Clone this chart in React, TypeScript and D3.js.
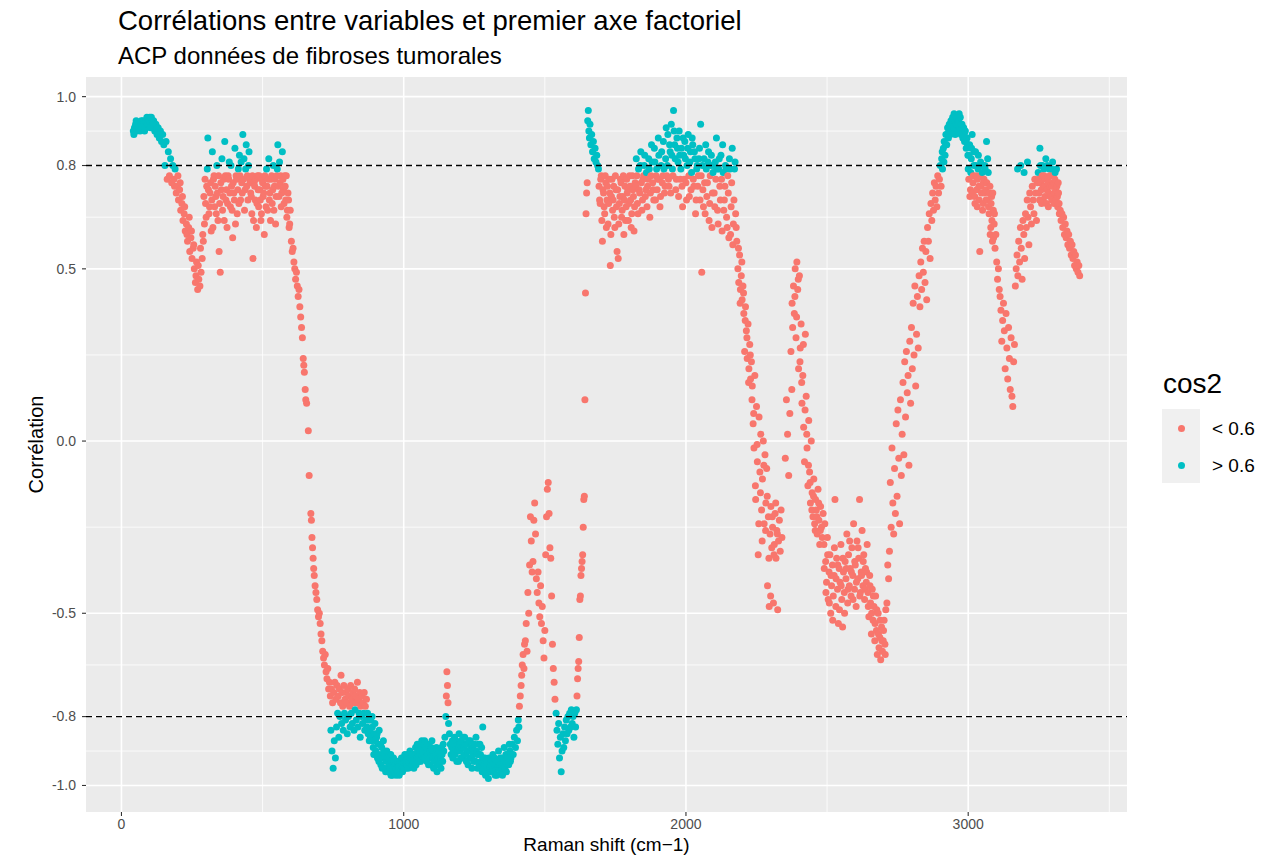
import React from 'react';
import * as d3 from 'd3';

const WIDTH = 1281;
const HEIGHT = 855;

// Correlation of each Raman channel (shift in cm-1) with the first principal axis.
// Pairs are [Raman shift, correlation], grouped by spectral region.
const lowShiftPoints: [number, number][] = [
  [42,.90],[46,.91],[50,.92],[54,.90],[58,.91],[62,.92],[66,.90],[70,.93],[74,.91],[78,.92],[82,.90],[86,.93],[90,.94],[94,.92],[98,.93],[102,.91],[106,.94],[110,.92],[114,.93],[118,.90],[122,.92],[126,.89],[130,.91],[134,.88],[138,.90],[142,.87],[146,.89],[150,.86],[154,.80],[158,.87],[162,.76],[166,.84],[170,.77],[174,.82],[178,.75],[182,.80],[186,.76],
  [44,.89],[52,.93],[60,.91],[68,.92],[76,.93],[84,.91],[92,.92],[100,.94],[108,.91],[116,.92],[124,.90],[132,.89],
  [190,.79],[194,.72],[198,.74],[202,.70],[206,.73],[210,.67],[214,.69],[218,.64],[222,.66],[226,.61],[230,.63],[234,.58],[238,.62],[242,.55],[246,.59],[250,.53],[254,.56],[258,.50],[262,.46],[266,.52],[270,.44],[274,.47],[278,.45],[282,.49],[286,.53],
  [188,.74],[200,.77],[208,.75],[216,.71],[224,.68],[232,.60],[240,.65],[248,.61],[256,.57],[264,.48],[272,.51],[280,.56],[288,.60],
  [290,.58],[294,.63],[298,.69],[302,.74],[306,.88],[310,.66],[314,.72],[318,.61],[322,.84],[326,.76],[330,.68],[334,.71],[338,.80],[342,.64],[346,.55],[350,.49],[354,.73],[358,.67],[362,.76],[366,.87],[370,.70],[374,.62],[378,.77],[382,.81],[386,.68],[390,.74],[394,.59],[398,.72],[402,.85],[406,.77],[410,.66],[414,.79],[418,.83],[422,.70],[426,.75],[430,.89],[434,.82],[438,.73],[442,.86],[446,.77],[450,.80],[454,.76],
  [458,.72],[462,.66],[466,.53],[470,.75],[474,.70],[478,.62],[482,.77],[486,.68],[490,.73],[494,.64],[498,.76],[502,.71],[506,.60],[510,.74],[514,.79],[518,.67],[522,.82],[526,.72],[530,.76],[534,.69],[538,.80],[542,.74],[546,.63],[550,.77],[554,.86],[558,.71],[562,.75],[566,.68],[570,.84],[574,.73],[578,.77],[582,.70],[586,.65],[590,.72],[594,.62],[598,.67],
  [292,.71],[296,.76],[300,.65],[304,.79],[308,.73],[312,.68],[316,.75],[320,.70],[324,.62],[328,.77],[332,.74],[336,.66],[340,.72],[344,.77],[348,.69],[352,.75],[356,.82],[360,.71],[364,.64],[368,.77],[372,.73],[376,.69],[380,.76],[384,.72],[388,.80],[392,.67],[396,.75],[400,.70],[404,.63],[408,.76],[412,.73],[416,.69],[420,.77],[424,.81],[428,.72],[432,.76],[436,.67],[440,.79],[444,.74],[448,.70],[452,.84],[456,.75],[460,.71],[464,.77],[468,.64],[472,.74],[476,.76],[480,.69],[484,.73],[488,.77],[492,.70],[496,.66],[500,.75],[504,.72],[508,.77],[512,.68],[516,.74],[520,.76],[524,.70],[528,.64],[532,.77],[536,.73],[540,.67],[544,.76],[548,.71],[552,.79],[556,.74],[560,.81],[564,.77],[568,.72],[572,.76],[576,.69],[580,.74],[584,.77],[588,.67],[592,.70],[596,.63],
];

const descentPoints: [number, number][] = [
  [602,.58],[605,.55],[608,.56],[611,.52],[614,.50],[617,.47],[620,.49],[623,.45],[626,.42],[629,.44],[632,.39],[635,.36],[638,.33],[641,.30],[644,.24],[646,.22],[648,.20],[651,.15],[653,.12],[656,.11],[662,.03],[665,-.10],[671,-.21],[673,-.23],[675,-.28],[677,-.31],[679,-.34],[681,-.37],[683,-.39],[686,-.42],[689,-.44],[692,-.46],[695,-.49],[698,-.51],[701,-.50],[704,-.53],[707,-.56],[710,-.58],[713,-.61],[716,-.63],[719,-.65],[722,-.62],[725,-.67],[728,-.69],[731,-.66],[734,-.72],[737,-.70],
];

const floorPoints: [number, number][] = [
  [740,-.74],[742,-.84],[744,-.72],[746,-.90],[748,-.76],[750,-.95],[752,-.73],[754,-.87],[756,-.70],[758,-.92],[760,-.75],[762,-.83],[764,-.71],[766,-.79],[768,-.74],[770,-.86],[772,-.72],[774,-.80],[776,-.76],[778,-.68],[780,-.82],[782,-.73],[784,-.77],[786,-.84],[788,-.71],[790,-.79],[792,-.75],[794,-.81],[796,-.73],[798,-.76],[800,-.85],[802,-.72],[804,-.80],[806,-.74],[808,-.77],[810,-.83],[812,-.71],[814,-.79],[816,-.75],[818,-.82],[820,-.73],[822,-.76],[824,-.84],[826,-.72],[828,-.78],[830,-.74],[832,-.81],[834,-.76],[836,-.70],[838,-.83],[840,-.75],[842,-.79],[844,-.73],[846,-.86],[848,-.77],[850,-.80],[852,-.74],[854,-.82],[856,-.76],[858,-.79],[860,-.73],[862,-.84],[864,-.77],[866,-.81],[868,-.75],[870,-.83],[872,-.79],[874,-.85],[876,-.81],[878,-.87],
  [880,-.84],[883,-.81],[886,-.87],[889,-.83],[892,-.89],[895,-.85],[898,-.82],[901,-.90],[904,-.86],[907,-.92],[910,-.88],[913,-.84],[916,-.91],[919,-.94],[922,-.89],[925,-.92],[928,-.87],[931,-.95],[934,-.91],[937,-.93],[940,-.90],[943,-.96],[946,-.93],[949,-.91],[952,-.95],[955,-.97],[958,-.93],[961,-.95],[964,-.92],[967,-.96],[970,-.94],[973,-.97],[976,-.95],[979,-.93],
  [882,-.86],[888,-.80],[894,-.91],[900,-.87],[906,-.85],[912,-.93],[918,-.88],[924,-.95],[930,-.90],[936,-.96],[942,-.92],[948,-.94],[954,-.91],[960,-.97],[966,-.93],[972,-.95],[978,-.96],
  [982,-.95],[986,-.93],[990,-.96],[994,-.94],[998,-.92],[1002,-.95],[1006,-.93],[1010,-.94],[1014,-.91],[1018,-.93],[1022,-.90],[1026,-.92],[1030,-.94],[1034,-.91],[1038,-.93],[1042,-.89],[1046,-.92],[1050,-.90],[1054,-.93],[1058,-.88],[1062,-.91],[1066,-.89],[1070,-.92],[1074,-.87],[1078,-.90],[1082,-.93],[1086,-.88],[1090,-.91],[1094,-.94],[1098,-.89],[1102,-.92],[1106,-.95],[1110,-.90],[1114,-.93],[1118,-.96],[1122,-.91],[1126,-.94],[1130,-.92],[1134,-.89],[1138,-.93],[1142,-.90],
  [984,-.97],[988,-.94],[992,-.92],[996,-.96],[1000,-.94],[1004,-.91],[1008,-.95],[1012,-.92],[1016,-.95],[1020,-.92],[1024,-.94],[1028,-.91],[1032,-.93],[1036,-.95],[1040,-.91],[1044,-.94],[1048,-.88],[1052,-.92],[1056,-.90],[1060,-.93],[1064,-.87],[1068,-.90],[1072,-.88],[1076,-.92],[1080,-.89],[1084,-.91],[1088,-.94],[1092,-.90],[1096,-.92],[1100,-.87],[1104,-.90],[1108,-.93],[1112,-.91],[1116,-.89],[1120,-.94],[1124,-.92],[1128,-.90],[1132,-.95],[1136,-.91],[1140,-.88],
  [1146,-.86],[1149,-.80],[1151,-.74],[1153,-.67],[1155,-.71],[1157,-.76],[1159,-.82],[1162,-.85],[1165,-.88],
  [1168,-.91],[1172,-.87],[1176,-.90],[1180,-.86],[1184,-.89],[1188,-.93],[1192,-.88],[1196,-.85],[1200,-.90],[1204,-.87],[1208,-.92],[1212,-.89],[1216,-.86],[1220,-.91],[1224,-.88],[1228,-.94],[1232,-.90],[1236,-.87],[1240,-.92],[1244,-.89],[1248,-.93],[1252,-.90],[1256,-.86],[1260,-.91],[1264,-.88],[1268,-.94],[1272,-.91],[1276,-.89],[1280,-.83],
  [1170,-.89],[1174,-.92],[1178,-.88],[1182,-.91],[1186,-.87],[1190,-.90],[1194,-.93],[1198,-.88],[1202,-.92],[1206,-.89],[1210,-.86],[1214,-.91],[1218,-.88],[1222,-.93],[1226,-.90],[1230,-.87],[1234,-.92],[1238,-.89],[1242,-.95],[1246,-.91],[1250,-.88],[1254,-.93],[1258,-.90],[1262,-.95],[1266,-.91],[1270,-.88],[1274,-.93],[1278,-.96],
  [1284,-.95],[1288,-.92],[1292,-.96],[1296,-.94],[1300,-.98],[1304,-.95],[1308,-.93],[1312,-.96],[1316,-.91],[1320,-.94],[1324,-.97],[1328,-.93],[1332,-.95],[1336,-.90],[1340,-.94],[1344,-.96],[1348,-.92],[1352,-.95],[1356,-.89],[1360,-.93],[1364,-.96],[1368,-.91],[1372,-.94],[1376,-.90],
  [1282,-.92],[1286,-.94],[1290,-.97],[1294,-.93],[1298,-.95],[1302,-.92],[1306,-.96],[1310,-.94],[1314,-.93],[1318,-.96],[1322,-.92],[1326,-.95],[1330,-.97],[1334,-.93],[1338,-.95],[1342,-.92],[1346,-.94],[1350,-.97],[1354,-.93],[1358,-.95],[1362,-.91],[1366,-.94],[1370,-.92],[1374,-.88],[1378,-.93],
  [1380,-.92],[1384,-.88],[1388,-.91],[1392,-.86],[1396,-.89],[1400,-.84],[1403,-.87],[1406,-.81],[1408,-.83],
];

const amideRisePoints: [number, number][] = [
  [1410,-.77],[1413,-.74],[1416,-.71],[1418,-.68],[1420,-.65],[1423,-.62],[1426,-.66],[1428,-.59],[1431,-.58],[1434,-.53],[1437,-.61],[1440,-.44],[1443,-.50],[1446,-.36],[1449,-.22],[1452,-.29],[1455,-.38],[1458,-.35],[1461,-.23],[1464,-.18],[1467,-.27],[1470,-.40],[1473,-.44],[1476,-.38],[1479,-.47],[1482,-.51],[1485,-.42],[1488,-.53],[1491,-.48],[1494,-.58],[1497,-.63],[1500,-.55],[1503,-.33],[1506,-.22],[1509,-.14],[1512,-.12],[1515,-.21],[1518,-.31],[1521,-.34],[1524,-.45],[1527,-.59],[1530,-.66],[1533,-.70],[1536,-.75],
  [1540,-.79],[1543,-.84],[1546,-.88],[1549,-.82],[1552,-.92],[1555,-.86],[1558,-.96],[1561,-.90],[1564,-.85],[1567,-.89],[1570,-.83],[1573,-.87],[1576,-.81],[1579,-.85],[1582,-.80],[1585,-.84],[1588,-.79],[1591,-.83],[1594,-.78],[1597,-.82],[1600,-.80],[1603,-.86],[1606,-.79],[1609,-.83],[1612,-.78],
  [1614,-.74],[1616,-.69],[1618,-.66],[1620,-.64],[1622,-.57],[1624,-.46],[1626,-.45],[1628,-.39],[1630,-.37],[1632,-.35],[1634,-.33],[1636,-.25],[1638,-.17],[1640,-.16],[1642,.12],[1644,.43],[1646,.66],[1648,.72],[1650,.75],[1652,.93],[1654,.96],[1656,.90],[1658,.88],[1660,.92],[1663,.86],[1666,.89],[1669,.84],[1672,.87],[1675,.82],[1678,.85],[1681,.81],[1684,.83],[1687,.80],[1690,.79],
];

const amidePlateauPoints: [number, number][] = [
  [1692,.74],[1696,.69],[1700,.77],[1704,.58],[1708,.72],[1712,.66],[1716,.75],[1720,.70],[1724,.63],[1728,.76],[1732,.51],[1736,.71],[1740,.67],[1744,.74],[1748,.62],[1752,.73],[1756,.55],[1760,.53],[1764,.69],[1768,.76],[1772,.65],[1776,.71],[1780,.60],[1784,.74],[1788,.68],[1792,.72],[1796,.64],[1800,.77],[1804,.70],[1808,.66],[1812,.73],[1816,.61],[1820,.75],[1824,.82],[1828,.69],[1832,.79],[1836,.72],[1840,.84],[1844,.67],[1848,.76],[1852,.80],[1856,.71],[1860,.78],[1864,.74],[1868,.82],[1872,.65],[1876,.77],[1880,.81],[1884,.73],[1888,.85],[1892,.70],[1896,.79],[1900,.76],[1904,.83],[1908,.68],[1912,.80],[1916,.75],[1920,.87],[1924,.72],[1928,.82],[1932,.77],[1936,.89],[1940,.74],[1944,.84],[1948,.92],[1952,.79],[1956,.96],[1960,.86],[1964,.73],[1968,.88],[1972,.81],[1976,.90],[1980,.76],[1984,.85],[1988,.68],[1992,.83],[1996,.87],[2000,.75],[2004,.80],[2008,.89],[2012,.71],[2016,.84],[2020,.78],[2024,.86],[2028,.74],[2032,.82],[2036,.70],[2040,.80],[2044,.77],[2048,.85],[2052,.92],[2056,.49],[2060,.73],[2064,.82],[2068,.66],[2072,.79],[2076,.75],[2080,.84],[2084,.69],[2088,.80],[2092,.62],[2096,.78],[2100,.72],[2104,.81],[2108,.88],[2112,.67],[2116,.79],[2120,.74],[2124,.83],[2128,.61],[2132,.78],[2136,.70],[2140,.80],[2144,.65],[2148,.77],[2152,.59],[2156,.79],[2160,.68],[2164,.85],[2168,.63],[2172,.79],[2176,.66],[2180,.58],
  [1694,.70],[1698,.76],[1702,.64],[1706,.73],[1710,.68],[1714,.77],[1718,.62],[1722,.74],[1726,.69],[1730,.72],[1734,.60],[1738,.76],[1742,.70],[1746,.65],[1750,.77],[1754,.68],[1758,.73],[1762,.63],[1766,.71],[1770,.75],[1774,.67],[1778,.77],[1782,.70],[1786,.64],[1790,.76],[1794,.73],[1798,.69],[1802,.74],[1806,.62],[1810,.77],[1814,.71],[1818,.68],[1822,.74],[1826,.77],[1830,.66],[1834,.73],[1838,.80],[1842,.75],[1846,.70],[1850,.77],[1854,.83],[1858,.73],[1862,.68],[1866,.76],[1870,.79],[1874,.72],[1878,.86],[1882,.75],[1886,.70],[1890,.81],[1894,.77],[1898,.73],[1902,.88],[1906,.76],[1910,.71],[1914,.84],[1918,.77],[1922,.79],[1926,.74],[1930,.91],[1934,.80],[1938,.76],[1942,.86],[1946,.72],[1950,.83],[1954,.77],[1958,.90],[1962,.82],[1966,.76],[1970,.85],[1974,.71],[1978,.83],[1982,.79],[1986,.74],[1990,.88],[1994,.76],[1998,.82],[2002,.70],[2006,.85],[2010,.77],[2014,.81],[2018,.73],[2022,.88],[2026,.76],[2030,.84],[2034,.66],[2038,.79],[2042,.74],[2046,.82],[2050,.70],[2054,.77],[2058,.80],[2062,.68],[2066,.75],[2070,.86],[2074,.71],[2078,.81],[2082,.64],[2086,.77],[2090,.83],[2094,.72],[2098,.80],[2102,.68],[2106,.76],[2110,.79],[2114,.63],[2118,.82],[2122,.70],[2126,.76],[2130,.86],[2134,.67],[2138,.74],[2142,.79],[2146,.62],[2150,.72],[2154,.82],[2158,.60],[2162,.75],[2166,.57],[2170,.70],[2174,.81],[2178,.62],
];

const fallPoints: [number, number][] = [
  [2184,.50],[2187,.46],[2190,.54],[2193,.44],[2196,.48],[2199,.41],[2202,.45],[2205,.37],[2208,.26],[2211,.39],[2214,.32],[2217,.24],[2220,.34],[2223,.21],[2226,.28],[2229,.18],[2232,.23],[2235,.16],[2238,.05],[2241,-.02],[2244,.19],[2247,-.17],[2250,.10],[2253,-.06],[2256,-.33],[2259,.07],[2262,-.09],[2265,.02],[2268,-.20],[2271,-.11],[2274,.00],[2277,-.24],[2280,-.04],[2283,-.18],[2286,-.08],[2289,-.42],[2292,-.22],[2295,-.48],[2298,-.27],[2301,-.19],[2304,-.31],[2307,-.25],[2310,-.47],[2313,-.30],[2316,-.21],[2319,-.34],[2322,-.26],[2325,-.49],[2328,-.29],[2331,-.23],[2334,-.32],[2337,-.20],[2340,-.28],
  [2186,.56],[2192,.40],[2198,.52],[2204,.43],[2210,.35],[2216,.30],[2222,.17],[2228,.25],[2234,.12],[2240,.08],[2246,-.13],[2252,-.01],[2258,-.24],[2264,-.15],[2270,-.29],[2276,-.07],[2282,-.26],[2288,-.16],[2294,-.34],[2300,-.45],[2306,-.22],[2312,-.33],[2318,-.18],[2324,-.27],
  [2352,-.05],[2356,.12],[2360,.02],[2364,-.10],[2368,.08],[2372,.26],[2375,.15],[2378,.33],[2381,.45],[2384,.37],[2387,.50],[2390,.30],[2393,.52],[2396,.44],[2399,.21],[2402,.48],[2405,.27],[2408,.34],[2411,.11],[2414,.19],[2417,.04],[2420,-.06],[2423,.31],[2426,.13],[2429,-.02],[2432,-.13],[2435,.06],[2438,-.09],[2441,-.18],[2444,.00],[2447,-.15],[2450,-.22],[2453,-.11],[2456,-.24],[2459,-.17],[2462,-.20],[2465,-.27],[2468,-.14],[2471,-.23],[2474,-.30],[2477,-.19],[2480,-.25],[2483,-.28],[2486,-.21],
  [2376,.40],[2386,.42],[2392,.36],[2398,.47],[2404,.23],[2410,.17],[2416,.28],[2422,.09],[2428,.02],[2434,-.07],[2440,-.12],[2446,-.20],[2452,-.16],[2458,-.26],[2464,-.22],[2470,-.18],[2476,-.26],
];

const valleyPoints: [number, number][] = [
  [2489,-.30],[2492,-.24],[2495,-.35],[2498,-.41],[2501,-.28],[2504,-.46],[2507,-.38],[2510,-.33],[2513,-.50],[2516,-.42],[2519,-.36],[2522,-.45],[2525,-.39],[2528,-.17],[2531,-.48],[2534,-.34],[2537,-.43],[2540,-.53],[2543,-.37],[2546,-.41],[2549,-.30],[2552,-.46],[2555,-.54],[2558,-.38],[2561,-.44],[2564,-.35],[2567,-.40],[2570,-.27],[2573,-.47],[2576,-.33],[2579,-.42],[2582,-.37],[2585,-.45],[2588,-.31],[2591,-.39],[2594,-.24],[2597,-.43],[2600,-.36],[2603,-.48],[2606,-.29],[2609,-.40],[2612,-.34],[2615,-.17],[2618,-.44],[2621,-.38],[2624,-.26],[2627,-.42],[2630,-.33],[2633,-.46],[2636,-.37],[2639,-.41],[2642,-.30],[2645,-.44],[2648,-.51],[2651,-.39],[2654,-.47],[2657,-.56],[2660,-.43],[2663,-.52],[2666,-.48],[2669,-.58],[2672,-.45],[2675,-.55],[2678,-.62],[2681,-.50],[2684,-.60],[2687,-.57],[2690,-.635],[2693,-.54],[2696,-.61],[2699,-.58],[2702,-.52],[2705,-.59],[2708,-.49],
  [2490,-.37],[2496,-.44],[2502,-.33],[2508,-.47],[2514,-.39],[2520,-.52],[2526,-.31],[2532,-.40],[2538,-.36],[2544,-.49],[2550,-.42],[2556,-.34],[2562,-.50],[2568,-.37],[2574,-.43],[2580,-.29],[2586,-.38],[2592,-.46],[2598,-.35],[2604,-.41],[2610,-.31],[2616,-.45],[2622,-.39],[2628,-.35],[2634,-.43],[2640,-.38],[2646,-.48],[2652,-.42],[2658,-.50],[2664,-.45],[2670,-.53],[2676,-.49],[2682,-.56],[2688,-.52],[2694,-.58],[2700,-.55],[2706,-.62],
];

const chStretchPoints: [number, number][] = [
  [2712,-.47],[2715,-.36],[2718,-.40],[2721,-.32],[2724,-.12],[2727,-.25],[2730,-.02],[2733,-.18],[2736,-.27],[2739,-.08],[2742,-.21],[2745,.05],[2748,-.16],[2751,.09],[2754,-.05],[2757,-.24],[2760,.12],[2763,-.10],[2766,.02],[2769,.17],[2772,-.04],[2775,.23],[2778,.07],[2781,.26],[2784,.14],[2787,.19],[2790,-.07],[2793,.29],[2796,.11],[2799,.33],[2802,.21],[2805,.40],[2808,.25],[2811,.45],[2814,.16],[2817,.31],[2820,.42],[2823,.27],[2826,.48],[2829,.39],[2832,.52],[2835,.44],[2838,.56],[2841,.49],[2844,.58],[2847,.46],[2850,.55],[2853,.41],[2856,.62],[2859,.58],[2862,.66],[2865,.53],[2868,.69],[2871,.64],[2874,.72],[2877,.67],[2880,.75],[2883,.70],[2886,.74],[2889,.68],[2892,.77],[2895,.72],[2898,.76],[2901,.80],[2904,.74],
  [2906,.82],[2909,.79],[2912,.85],[2915,.87],[2918,.83],[2921,.89],[2924,.86],[2927,.91],[2930,.88],[2933,.92],[2936,.89],[2939,.93],[2942,.90],[2945,.94],[2948,.91],[2951,.93],[2954,.89],[2957,.92],[2960,.94],[2963,.90],[2966,.93],[2969,.91],[2972,.94],[2975,.89],[2978,.92],[2981,.88],[2984,.91],[2987,.87],[2990,.90],[2993,.85],[2996,.88],[2999,.83],
  [2908,.84],[2914,.81],[2920,.86],[2926,.89],[2932,.90],[2938,.92],[2944,.93],[2950,.95],[2956,.93],[2962,.92],[2968,.95],[2974,.92],[2980,.90],[2986,.89],[2992,.87],[2998,.86],
  [3002,.76],[3005,.86],[3008,.73],[3011,.82],[3014,.89],[3017,.75],[3020,.80],[3023,.71],[3026,.84],[3029,.77],[3032,.68],[3035,.79],[3038,.74],[3041,.55],[3044,.81],[3047,.72],[3050,.78],[3053,.69],[3056,.76],[3059,.80],[3062,.73],[3065,.87],[3068,.70],[3071,.78],[3074,.66],[3077,.74],[3080,.62],[3083,.71],[3086,.58],[3089,.67],[3092,.63],[3095,.56],
  [3000,.79],[3003,.83],[3006,.71],[3009,.78],[3012,.85],[3015,.72],[3018,.77],[3021,.84],[3024,.69],[3027,.80],[3030,.73],[3033,.76],[3036,.83],[3039,.70],[3042,.77],[3045,.74],[3048,.80],[3051,.67],[3054,.75],[3057,.72],[3060,.79],[3063,.70],[3066,.75],[3069,.82],[3072,.68],[3075,.72],[3078,.60],[3081,.69],[3084,.64],[3087,.72],[3090,.59],[3093,.66],
  [3098,.60],[3101,.52],[3104,.47],[3107,.50],[3110,.44],[3113,.42],[3116,.38],[3119,.29],[3122,.35],[3125,.40],[3128,.32],[3131,.21],[3134,.37],[3137,.27],[3140,.18],[3143,.33],[3146,.24],[3149,.15],[3152,.30],[3155,.13],[3158,.10],[3161,.23],[3164,.28],
  [3167,.45],[3170,.50],[3173,.54],[3175,.79],[3176,.48],[3179,.58],[3182,.52],[3185,.62],[3186,.80],[3188,.56],[3191,.47],[3194,.64],[3197,.60],[3198,.78],[3200,.53],[3203,.66],[3206,.62],[3209,.70],[3210,.81],[3212,.65],[3215,.57],[3218,.72],[3221,.68],[3224,.63],[3227,.74],[3230,.70],[3233,.66],[3236,.76],[3239,.72],[3242,.64],[3245,.75],
  [3248,.78],[3251,.72],[3254,.85],[3257,.75],[3260,.69],[3263,.80],[3266,.74],[3269,.77],[3272,.71],[3275,.82],[3278,.73],[3281,.76],[3284,.68],[3287,.79],[3290,.74],[3293,.77],[3296,.70],[3299,.81],[3302,.75],[3305,.72],[3308,.78],[3311,.70],[3314,.74],[3317,.68],[3320,.72],[3323,.66],
  [3250,.76],[3253,.70],[3256,.80],[3259,.73],[3262,.77],[3265,.70],[3268,.79],[3271,.74],[3274,.76],[3277,.69],[3280,.80],[3283,.75],[3286,.72],[3289,.77],[3292,.71],[3295,.79],[3298,.74],[3301,.77],[3304,.69],[3307,.76],[3310,.73],[3313,.79],[3316,.71],[3319,.75],[3322,.69],
  [3326,.67],[3329,.64],[3332,.66],[3335,.62],[3338,.65],[3341,.60],[3344,.63],[3347,.59],[3350,.61],[3353,.57],[3356,.60],[3359,.56],[3362,.58],[3365,.54],[3368,.57],[3371,.53],[3374,.55],[3377,.51],[3380,.54],[3383,.50],[3386,.52],[3389,.49],[3392,.51],[3395,.48],
];

const xBreaks = [0, 1000, 2000, 3000];
const yBreaks = [-1.0, -0.8, -0.5, 0.0, 0.5, 0.8, 1.0];
const thresholdLines = [-0.8, 0.8];
const cos2Cut = 0.6;
const cos2Labels = ['< 0.6', '> 0.6'];
const cos2Colors = ['#F8766D', '#00BFC4'];

const TITLE = 'Corrélations entre variables et premier axe factoriel';
const SUBTITLE = 'ACP données de fibroses tumorales';
const X_TITLE = 'Raman shift (cm\u22121)';
const Y_TITLE = 'Corrélation';
const LEGEND_TITLE = 'cos2';

const FONT = '"Liberation Sans", Arial, Helvetica, sans-serif';

const panel = { left: 86, right: 1127, top: 77, bottom: 812 };

function expand([a, b]: [number, number]): [number, number] {
  const pad = (b - a) * 0.05;
  return [a - pad, b + pad];
}

function minorBreaks(major: number[], domain: [number, number]): number[] {
  const out: number[] = [];
  for (let i = 0; i < major.length - 1; i++) out.push((major[i] + major[i + 1]) / 2);
  const after = major[major.length - 1] + (major[major.length - 1] - major[major.length - 2]) / 2;
  if (after <= domain[1]) out.push(after);
  const before = major[0] - (major[1] - major[0]) / 2;
  if (before >= domain[0]) out.unshift(before);
  return out;
}

export default function App() {
  const points = [
    ...lowShiftPoints,
    ...descentPoints,
    ...floorPoints,
    ...amideRisePoints,
    ...amidePlateauPoints,
    ...fallPoints,
    ...valleyPoints,
    ...chStretchPoints,
  ]
    .map(([shift, r]) => ({ shift, r, high: r * r > cos2Cut }))
    .sort((a, b) => a.shift - b.shift);

  const xDomain = expand(d3.extent(points, (d) => d.shift) as [number, number]);
  const yDomain = expand(d3.extent(points, (d) => d.r) as [number, number]);
  const x = d3.scaleLinear().domain(xDomain).range([panel.left, panel.right]);
  const y = d3.scaleLinear().domain(yDomain).range([panel.bottom, panel.top]);

  const xMinor = minorBreaks(xBreaks, xDomain);
  const yMinor = minorBreaks(yBreaks, yDomain);
  const color = d3.scaleOrdinal<string, string>().domain(cos2Labels).range(cos2Colors);

  const legendX = 1162;
  const legendTop = 409;
  const keySize = 37;
  const dotR = 3.5;

  return (
    <div style={{ position: 'absolute', left: 0, top: 0 }}>
      <svg width={WIDTH} height={HEIGHT} style={{ display: 'block', background: '#fff' }} fontFamily={FONT}>
        <text x={118} y={30} fontSize={27.5} fill="#000">{TITLE}</text>
        <text x={118} y={64} fontSize={24} fill="#000">{SUBTITLE}</text>

        <rect x={panel.left} y={panel.top} width={panel.right - panel.left} height={panel.bottom - panel.top} fill="#EBEBEB" />
        {xMinor.map((v) => (
          <line key={'xm' + v} x1={x(v)} x2={x(v)} y1={panel.top} y2={panel.bottom} stroke="#fff" strokeWidth={0.8} />
        ))}
        {yMinor.map((v) => (
          <line key={'ym' + v} x1={panel.left} x2={panel.right} y1={y(v)} y2={y(v)} stroke="#fff" strokeWidth={0.8} />
        ))}
        {xBreaks.map((v) => (
          <line key={'xM' + v} x1={x(v)} x2={x(v)} y1={panel.top} y2={panel.bottom} stroke="#fff" strokeWidth={1.6} />
        ))}
        {yBreaks.map((v) => (
          <line key={'yM' + v} x1={panel.left} x2={panel.right} y1={y(v)} y2={y(v)} stroke="#fff" strokeWidth={1.6} />
        ))}

        {points.map((d, i) => (
          <circle key={i} cx={x(d.shift)} cy={y(d.r)} r={dotR} fill={color(d.high ? cos2Labels[1] : cos2Labels[0])} />
        ))}

        {thresholdLines.map((v) => (
          <line key={'h' + v} x1={panel.left} x2={panel.right} y1={y(v)} y2={y(v)} stroke="#000" strokeWidth={1.3} strokeDasharray="6 4" />
        ))}

        {yBreaks.map((v) => (
          <g key={'yt' + v}>
            <line x1={panel.left - 4} x2={panel.left} y1={y(v)} y2={y(v)} stroke="#333" strokeWidth={1.1} />
            <text x={panel.left - 10} y={y(v)} dy="0.35em" textAnchor="end" fontSize={14} fill="#4D4D4D">
              {d3.format('.1f')(v).replace('\u2212', '-')}
            </text>
          </g>
        ))}
        {xBreaks.map((v) => (
          <g key={'xt' + v}>
            <line x1={x(v)} x2={x(v)} y1={panel.bottom} y2={panel.bottom + 4} stroke="#333" strokeWidth={1.1} />
            <text x={x(v)} y={panel.bottom + 17} textAnchor="middle" fontSize={14} fill="#4D4D4D">
              {v}
            </text>
          </g>
        ))}

        <text x={(panel.left + panel.right) / 2} y={850.5} textAnchor="middle" fontSize={19} fill="#000">{X_TITLE}</text>
        <text transform={`translate(43,${(panel.top + panel.bottom) / 2}) rotate(-90)`} textAnchor="middle" fontSize={20} fill="#000">{Y_TITLE}</text>

        <text x={legendX + 1} y={393} fontSize={28} fill="#000">{LEGEND_TITLE}</text>
        {cos2Labels.map((lab, i) => (
          <g key={lab}>
            <rect x={legendX} y={legendTop + i * keySize} width={keySize + 1} height={keySize} fill="#F0F0F0" />
            <circle cx={legendX + keySize / 2 + 1} cy={legendTop + i * keySize + keySize / 2 + 1} r={dotR} fill={color(lab)} />
            <text x={legendX + keySize + 13} y={legendTop + i * keySize + keySize / 2 + 1} dy="0.35em" fontSize={19} fill="#000">{lab}</text>
          </g>
        ))}
      </svg>
    </div>
  );
}
